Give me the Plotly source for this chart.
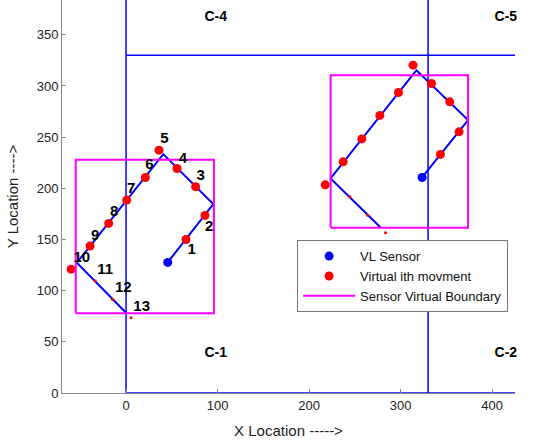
import plotly.graph_objects as go

# ---- data ----
# zone boundary lines
zone_v_x = [0, 330]
zone_h_y = [0, 330]
x_max, y_max = 425, 384

# left cluster
l_sensor = [45.5, 127.6]
l_path_x = [45.5, 95.3, 40.7, -53.8, 0]
l_path_y = [127.6, 184.6, 233.4, 127.3, 78.4]
l_big_x = [65.5, 86.2, 76, 55.7, 36, 21.1, 0.7, -19, -39.3, -60]
l_big_y = [150, 173.5, 201.5, 219.4, 237.3, 210.6, 188.5, 165.7, 143.6, 121]
l_small_x = [-33.8, -15, 5.5]
l_small_y = [109.7, 91.5, 73.5]
l_box = [-55, 96, 78, 228]  # x0, x1, y0, y1
step_labels = ["1", "2", "3", "4", "5", "6", "7", "8", "9", "10", "11", "12", "13"]
label_x = [71.7, 90.9, 81.6, 62, 41.8, 25.4, 5.5, -13.1, -33.8, -48.4, -22.9, -3, 17.1]
label_y = [139.6, 162.4, 212.2, 228.2, 247.7, 222.6, 199, 177, 153.3, 132, 120.1, 102.2, 83.7]

# right cluster
r_sensor = [323.5, 210.6]
r_path_x = [323.5, 373.7, 317.3, 223.5, 278.4]
r_path_y = [210.6, 266.6, 315.4, 209.7, 161.4]
r_big_x = [343.5, 363.9, 353.7, 333.7, 313.6, 297.7, 277.3, 257.6, 237.2, 217.6]
r_big_y = [233.1, 255.2, 284.5, 302.4, 320.3, 293.6, 271.2, 248.3, 225.9, 203.4]
r_small_x = [244.5, 263.9, 283.5]
r_small_y = [191.7, 173.8, 156.5]
r_box = [223.5, 373.7, 161.4, 310.5]

zone_names = ["C-1", "C-2", "C-4", "C-5"]
zone_lx = [98, 415, 98, 415]
zone_ly = [39, 39, 367, 367]

BLUE = "#0000FF"
RED = "#FF0000"
MAG = "#FF00FF"

fig = go.Figure()

# zone lines
for xv in zone_v_x:
    fig.add_trace(go.Scatter(x=[xv, xv], y=[0, y_max], mode="lines",
                             line=dict(color=BLUE, width=1.5), showlegend=False, hoverinfo="skip"))
for yv in zone_h_y:
    fig.add_trace(go.Scatter(x=[0, x_max], y=[yv, yv], mode="lines",
                             line=dict(color=BLUE, width=1.5), showlegend=False, hoverinfo="skip"))

# paths
for px, py in [(l_path_x, l_path_y), (r_path_x, r_path_y)]:
    fig.add_trace(go.Scatter(x=px, y=py, mode="lines", line=dict(color=BLUE, width=2),
                             showlegend=False, hoverinfo="skip"))

# small red dots
fig.add_trace(go.Scatter(x=l_small_x + r_small_x, y=l_small_y + r_small_y, mode="markers",
                         marker=dict(color=RED, size=3), showlegend=False))

# sensors
fig.add_trace(go.Scatter(x=[l_sensor[0], r_sensor[0]], y=[l_sensor[1], r_sensor[1]],
                         mode="markers", marker=dict(color=BLUE, size=9), name="VL Sensor"))
# virtual movements
fig.add_trace(go.Scatter(x=l_big_x + r_big_x, y=l_big_y + r_big_y, mode="markers",
                         marker=dict(color=RED, size=9), name="Virtual ith movment"))
# boundaries
bx, by = [], []
for b in [l_box, r_box]:
    bx += [b[0], b[1], b[1], b[0], b[0], None]
    by += [b[2], b[2], b[3], b[3], b[2], None]
fig.add_trace(go.Scatter(x=bx, y=by, mode="lines", line=dict(color=MAG, width=2),
                         name="Sensor Virtual Boundary"))

# step labels
fig.add_trace(go.Scatter(x=label_x, y=label_y, mode="text", text=step_labels,
                         textfont=dict(family="Arial", size=15, color="black", weight="bold"),
                         showlegend=False, hoverinfo="skip"))
fig.add_trace(go.Scatter(x=zone_lx, y=zone_ly, mode="text", text=zone_names,
                         textfont=dict(family="Arial", size=14, color="black", weight="bold"),
                         showlegend=False, hoverinfo="skip", cliponaxis=False))

fig.update_layout(
    width=533, height=443,
    margin=dict(l=62, r=18, t=0, b=50, autoexpand=False),
    plot_bgcolor="white", paper_bgcolor="white",
    font=dict(family="Arial", size=13, color="#222"),
    xaxis=dict(range=[-70, 425], tickvals=[0, 100, 200, 300, 400], showgrid=False, zeroline=False,
               automargin=False,
               showline=True, linecolor="#888", linewidth=1, ticks="inside", ticklen=4,
               tickcolor="#888", title=dict(text="X Location ----->", standoff=13,
                                            font=dict(size=15))),
    yaxis=dict(range=[0, y_max], tickvals=[0, 50, 100, 150, 200, 250, 300, 350], showgrid=False,
               automargin=False,
               zeroline=False, showline=True, linecolor="#888", linewidth=1, ticks="inside",
               ticklen=4, tickcolor="#888", title=dict(text="Y Location ---->", standoff=14,
                                                      font=dict(size=15))),
    legend=dict(x=0.519, y=0.389, xanchor="left", yanchor="top", bordercolor="#777", borderwidth=1,
                bgcolor="white", font=dict(family="Arial", size=13, color="#111"),
                tracegroupgap=0, itemwidth=52),
)

fig.write_html("out.html", config={"displayModeBar": False},
               post_script="document.body.style.margin='0px';")
